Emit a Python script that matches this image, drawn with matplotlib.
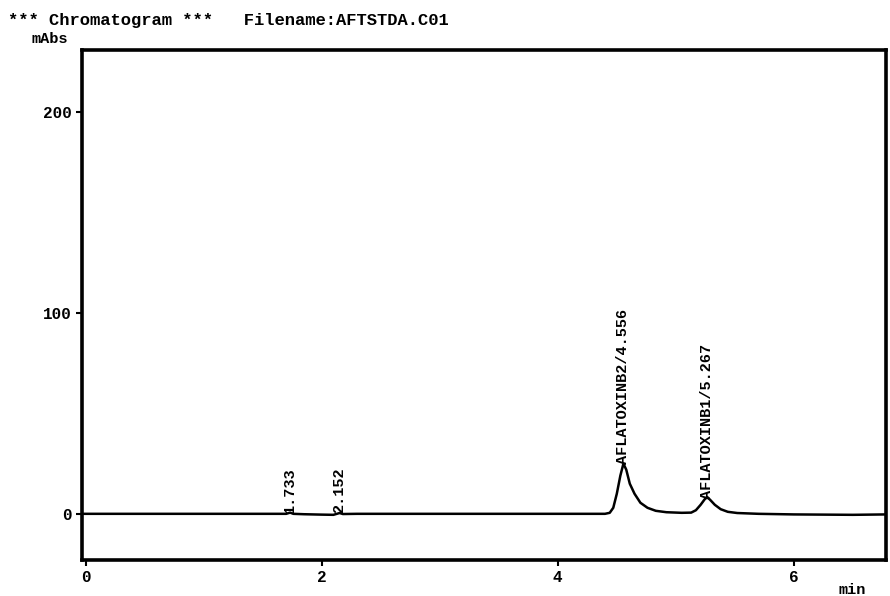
import matplotlib.pyplot as plt

plt.rcParams.update({
    "font.family": ["Liberation Mono", "DejaVu Sans Mono"],
    "font.weight": "bold",
})

# retention time (min) and signal (mAbs)
time = [-0.03, 0.5, 1.0, 1.5, 1.70, 1.733, 1.76, 1.85, 2.0, 2.10, 2.152, 2.18, 2.3,
        3.0, 4.0, 4.40, 4.44, 4.47, 4.50, 4.53, 4.556, 4.58, 4.61, 4.65, 4.70,
        4.76, 4.83, 4.92, 5.05, 5.13, 5.17, 5.21, 5.245, 5.267,
        5.29, 5.33, 5.38, 5.44, 5.52, 5.70, 6.0, 6.5, 6.78]
signal = [0.0, 0.0, 0.0, 0.0, 0.0, 0.6, 0.0, -0.2, -0.4, -0.5, 0.4, -0.1, 0.0,
          0.0, 0.0, 0.0, 0.5, 3.0, 10.0, 19.0, 25.0, 22.0, 15.0, 10.0, 5.5,
          3.0, 1.5, 0.8, 0.5, 0.6, 1.8, 4.5, 7.3, 8.3,
          7.0, 4.5, 2.3, 1.0, 0.4, 0.0, -0.3, -0.5, -0.3]

peak_times = [1.733, 2.152, 4.556, 5.267]
peak_tops = [0.6, 0.4, 25.0, 7.5]
peak_names = ["1.733", "2.152", "AFLATOXINB2/4.556", "AFLATOXINB1/5.267"]

fig = plt.figure(figsize=(8.9, 5.96), dpi=100)
ax = fig.add_axes([0.0921, 0.0604, 0.9034, 0.8557])

ax.plot(time, signal, color="black", linewidth=1.8)

for t, h, name in zip(peak_times, peak_tops, peak_names):
    ax.text(t, h, name, rotation=90, ha="center", va="bottom",
            fontsize=11, fontweight="bold")

ax.set_xlim(-0.03, 6.78)
ax.set_ylim(-23, 231)
ax.set_xticks([0, 2, 4, 6])
ax.set_yticks([0, 100, 200])
ax.tick_params(direction="out", length=4, width=1.5, labelsize=11.5, pad=3)
for lbl in ax.get_xticklabels() + ax.get_yticklabels():
    lbl.set_fontweight("bold")
for sp in ax.spines.values():
    sp.set_linewidth(2.6)

fig.text(0.009, 0.965, "*** Chromatogram ***   Filename:AFTSTDA.C01",
         fontsize=12.3, fontweight="bold", va="center", ha="left")
fig.text(0.036, 0.934, "mAbs", fontsize=11, fontweight="bold", va="center", ha="left")
fig.text(0.942, 0.010, "min", fontsize=11, fontweight="bold", va="center", ha="left")

fig.savefig("out.png", dpi=100)
